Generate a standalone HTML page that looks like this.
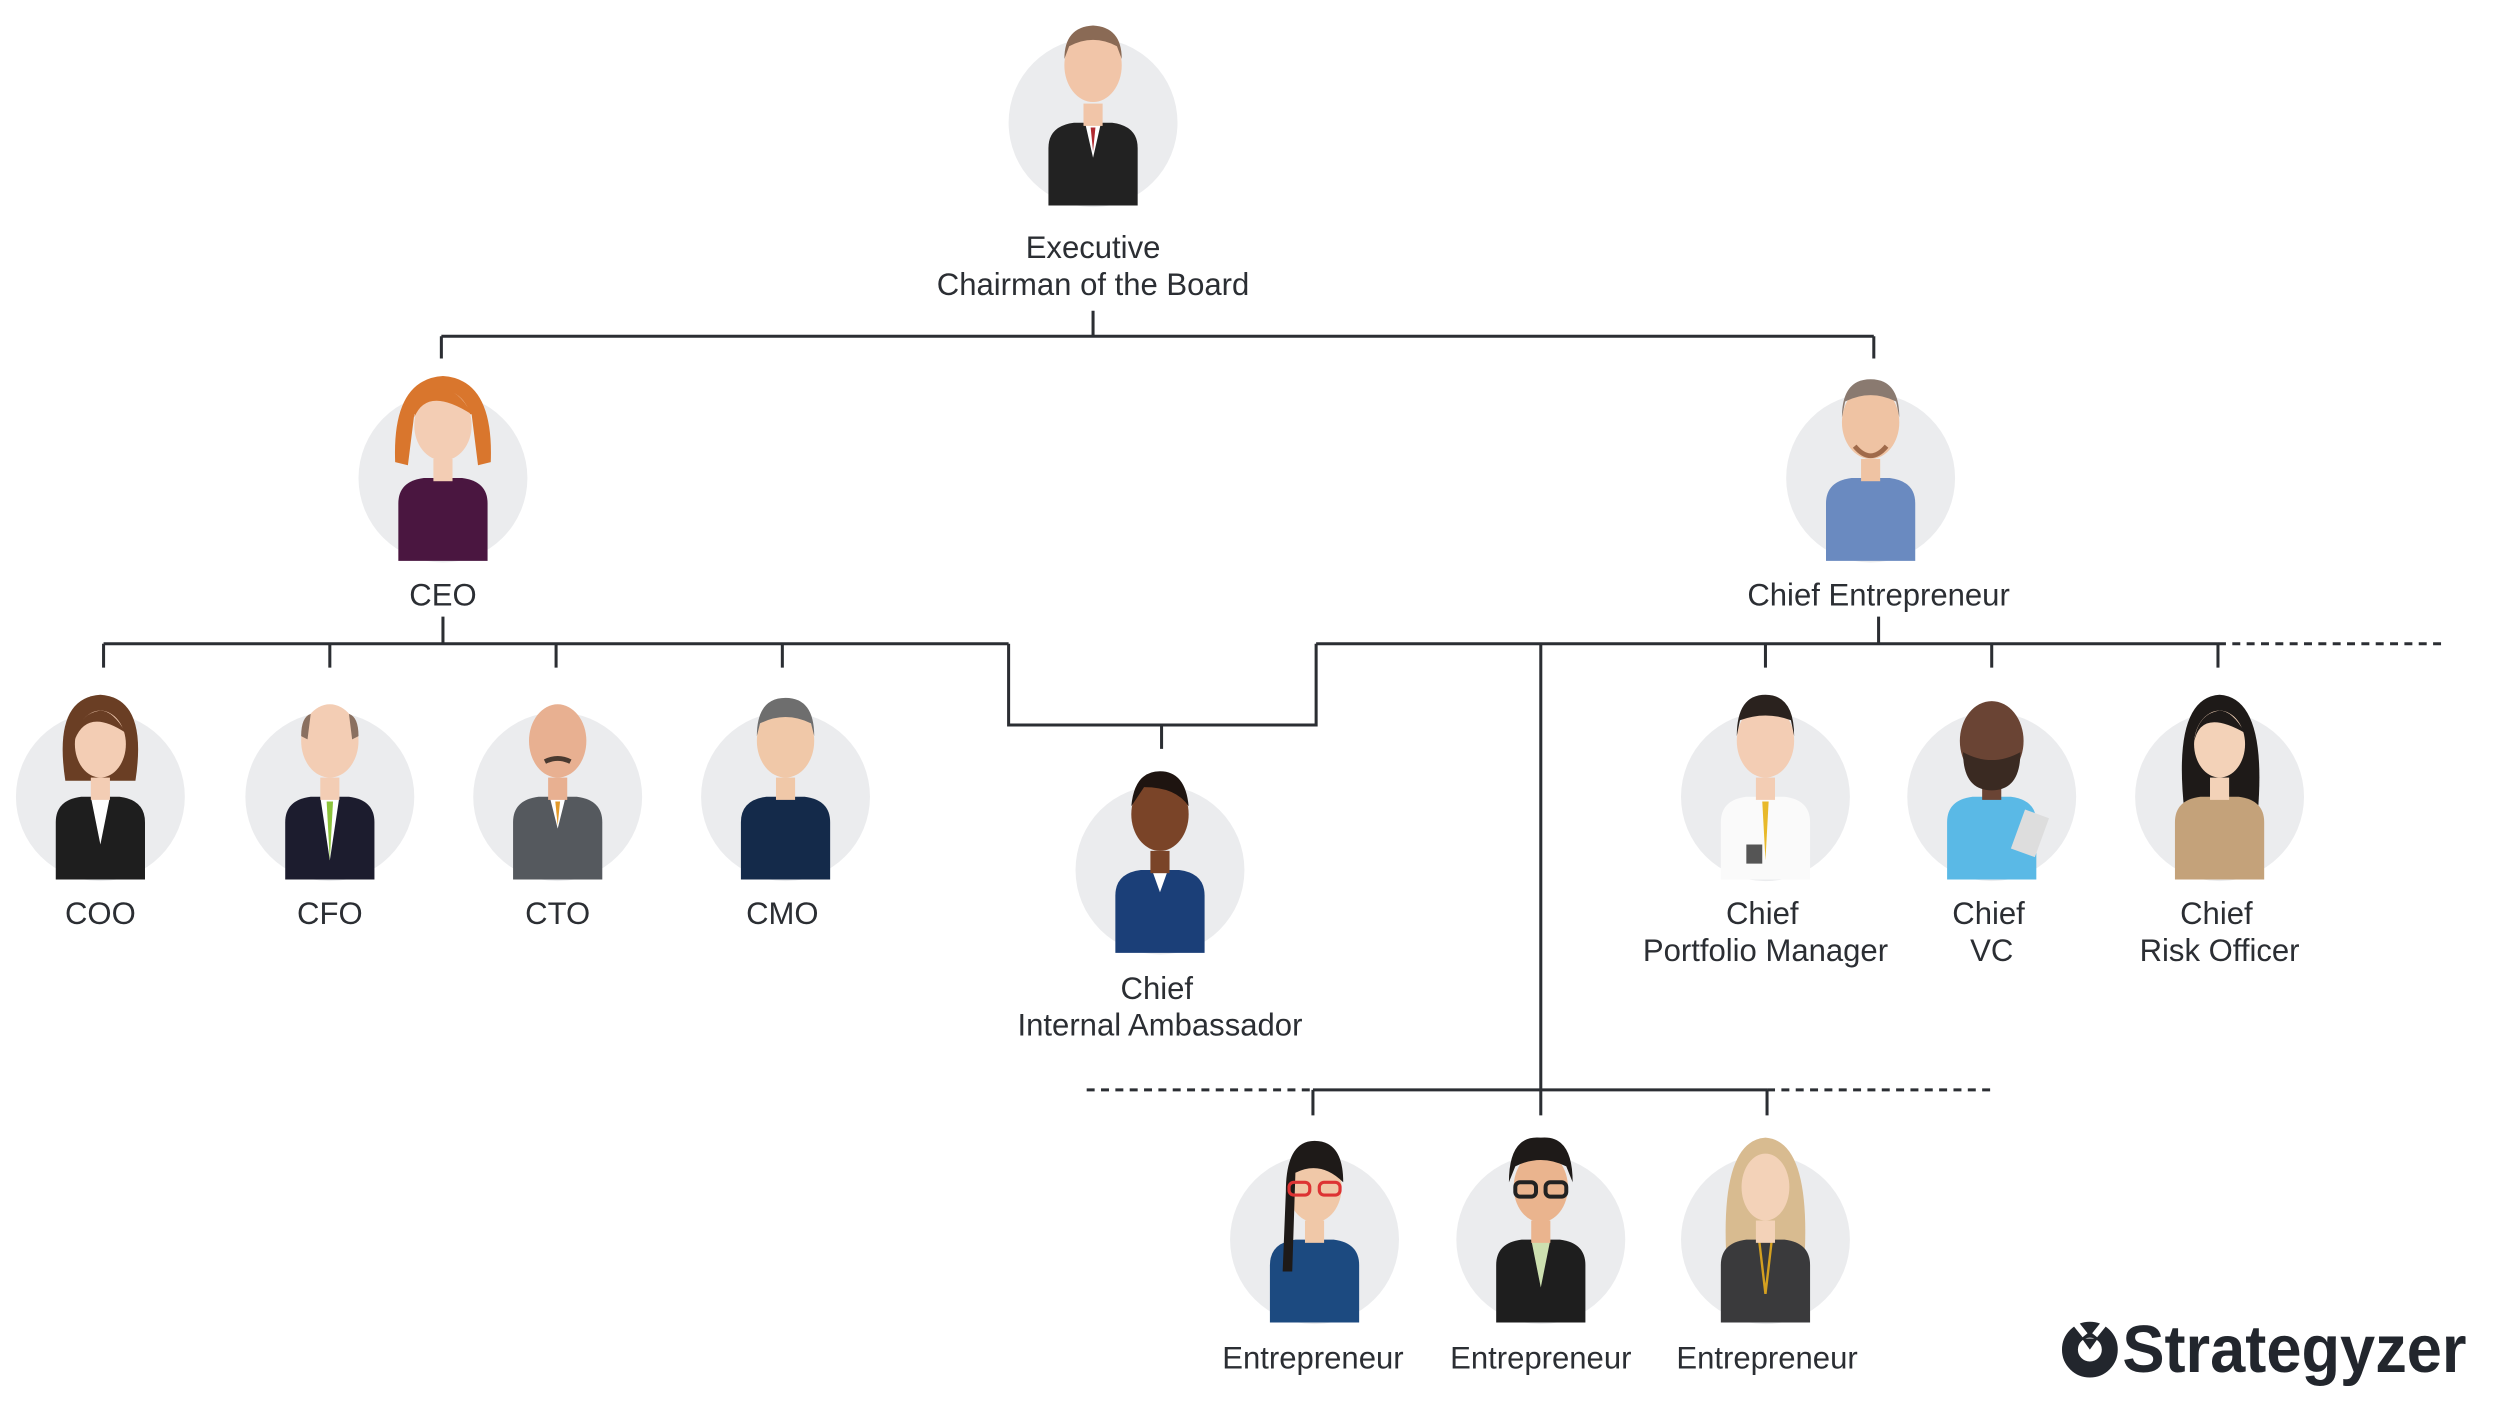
<!DOCTYPE html>
<html><head><meta charset="utf-8"><style>
html,body{margin:0;padding:0;background:#fff;}
svg{display:block;}
text{font-family:"Liberation Sans",sans-serif;fill:#2b2e33;font-size:19.5px;text-anchor:middle;}
</style></head><body>
<svg width="2500" height="1421" viewBox="0 0 1569 891.8" xmlns="http://www.w3.org/2000/svg">
<defs>
<g id="c"><circle r="53" fill="#ebecee"/></g>
</defs>
<g stroke="#2b2e33" stroke-width="1.9" fill="none">
<path d="M686,195V211M277,211H1176M277,211V225M1176,211V225"/>
<path d="M278,387V404M65,404H633M65,404V419M207,404V419M349,404V419M491,404V419M633,404V455H826V404M729,455V470"/>
<path d="M826,404H1392M1179,387V404M1108,404V419M1250,404V419M1392,404V419M967,404V700M824,684H1109M824,684V700M967,684V700M1109,684V700"/>
<path d="M1392,404H1535M682,684H824M1109,684H1252" stroke-dasharray="5,4"/>
</g>

<g transform="translate(686,77)"><use href="#c"/>
<path d="M-28,52V16Q-28,2 -12,0H12Q28,2 28,16V52Z" fill="#222"/><path d="M-5,0L0,22L5,0Z" fill="#fff"/><path d="M-1.5,3L0,18L1.5,3Z" fill="#b02a30"/>
<rect x="-6" y="-12" width="12" height="14" fill="#f1c5a8"/><ellipse cx="0" cy="-36" rx="18" ry="23" fill="#f1c5a8"/><path d="M-18,-40Q-18,-60 0,-61Q18,-60 18,-40L15,-48Q0,-56 -15,-48Z" fill="#8a6a55"/></g>
<text x="686" y="162">Executive</text><text x="686" y="185">Chairman of the Board</text>

<g transform="translate(278,300)"><use href="#c"/>
<path d="M-28,52V16Q-28,2 -12,0H12Q28,2 28,16V52Z" fill="#4a1640"/>
<path d="M-30,-10Q-32,-62 0,-64Q32,-62 30,-10L22,-8L18,-40H-18L-22,-8Z" fill="#d9762d"/>
<rect x="-6" y="-12" width="12" height="14" fill="#f3cdb4"/><ellipse cx="0" cy="-33" rx="18" ry="22" fill="#f3cdb4"/><path d="M-18,-38Q-10,-58 18,-40Q10,-56 -2,-56Q-16,-54 -18,-38Z" fill="#d9762d"/></g>
<text x="278" y="380">CEO</text>

<g transform="translate(1174,300)"><use href="#c"/>
<path d="M-28,52V16Q-28,2 -12,0H12Q28,2 28,16V52Z" fill="#6a8ac0"/>
<rect x="-6" y="-12" width="12" height="14" fill="#efc3a3"/><ellipse cx="0" cy="-35" rx="18" ry="23" fill="#efc3a3"/><path d="M-18,-38Q-18,-62 0,-62Q18,-62 18,-38L16,-48Q0,-56 -16,-48Z" fill="#8a7a70"/><path d="M-10,-20Q0,-8 10,-20" stroke="#a06a4a" stroke-width="3" fill="none"/></g>
<text x="1179" y="380">Chief Entrepreneur</text>

<g transform="translate(63,500)"><use href="#c"/>
<path d="M-22,-10Q-30,-62 0,-64Q30,-62 22,-10Z" fill="#6a3e24"/>
<path d="M-28,52V16Q-28,2 -12,0H12Q28,2 28,16V52Z" fill="#1e1e1e"/><path d="M-6,0L0,30L6,0Z" fill="#fff"/>
<rect x="-6" y="-12" width="12" height="14" fill="#f3cdb4"/><ellipse cx="0" cy="-33" rx="16" ry="21" fill="#f3cdb4"/><path d="M-16,-36Q-8,-56 16,-40Q8,-54 0,-54Q-14,-52 -16,-36Z" fill="#6a3e24"/></g>
<text x="63" y="580">COO</text>

<g transform="translate(207,500)"><use href="#c"/>
<path d="M-28,52V16Q-28,2 -12,0H12Q28,2 28,16V52Z" fill="#1c1c2e"/><path d="M-6,0L0,40L6,0Z" fill="#fff"/><path d="M-2,3L0,40L2,3Z" fill="#8cc43c"/>
<rect x="-6" y="-12" width="12" height="14" fill="#f3cdb4"/><ellipse cx="0" cy="-35" rx="18" ry="23" fill="#f3cdb4"/><path d="M-18,-38Q-18,-50 -12,-52L-14,-36ZM18,-38Q18,-50 12,-52L14,-36Z" fill="#8a7060"/></g>
<text x="207" y="580">CFO</text>

<g transform="translate(350,500)"><use href="#c"/>
<path d="M-28,52V16Q-28,2 -12,0H12Q28,2 28,16V52Z" fill="#55595e"/><path d="M-5,0L0,20L5,0Z" fill="#fff"/><path d="M-1.5,3L0,18L1.5,3Z" fill="#e39a2a"/>
<rect x="-6" y="-12" width="12" height="14" fill="#e8b091"/><ellipse cx="0" cy="-35" rx="18" ry="23" fill="#e8b091"/><path d="M-8,-22Q0,-26 8,-22" stroke="#4a3a30" stroke-width="3" fill="none"/></g>
<text x="350" y="580">CTO</text>

<g transform="translate(493,500)"><use href="#c"/>
<path d="M-28,52V16Q-28,2 -12,0H12Q28,2 28,16V52Z" fill="#142a4a"/>
<rect x="-6" y="-12" width="12" height="14" fill="#f0c8a8"/><ellipse cx="0" cy="-35" rx="18" ry="23" fill="#f0c8a8"/><path d="M-18,-38Q-18,-62 0,-62Q18,-62 18,-38L16,-46Q0,-54 -16,-46Z" fill="#6e6e6e"/></g>
<text x="491" y="580">CMO</text>

<g transform="translate(728,546)"><use href="#c"/>
<path d="M-28,52V16Q-28,2 -12,0H12Q28,2 28,16V52Z" fill="#1b3f78"/><path d="M-5,0L0,14L5,0Z" fill="#fff"/>
<rect x="-6" y="-12" width="12" height="14" fill="#7a4428"/><ellipse cx="0" cy="-35" rx="18" ry="23" fill="#7a4428"/><path d="M-18,-40Q-16,-62 0,-62Q16,-62 18,-40Q10,-52 -10,-52Z" fill="#1e1410"/></g>
<text x="726" y="627">Chief</text><text x="728" y="650">Internal Ambassador</text>

<g transform="translate(1108,500)"><use href="#c"/>
<path d="M-28,52V16Q-28,2 -12,0H12Q28,2 28,16V52Z" fill="#fafafa"/><path d="M-2,3L0,40L2,3Z" fill="#e8b92a"/><rect x="-12" y="30" width="10" height="12" fill="#555"/>
<rect x="-6" y="-12" width="12" height="14" fill="#f3cdb4"/><ellipse cx="0" cy="-35" rx="18" ry="23" fill="#f3cdb4"/><path d="M-18,-38Q-18,-64 0,-64Q18,-64 18,-38L16,-48Q0,-54 -16,-48Z" fill="#2a221e"/></g>
<text x="1106" y="580">Chief</text><text x="1108" y="603">Portfolio Manager</text>

<g transform="translate(1250,500)"><use href="#c"/>
<path d="M-28,52V16Q-28,2 -12,0H12Q28,2 28,16V52Z" fill="#5ab9e6"/><rect x="16" y="10" width="16" height="26" fill="#ddd" transform="rotate(20 24 23)"/>
<rect x="-6" y="-12" width="12" height="14" fill="#6a4434"/><ellipse cx="0" cy="-35" rx="20" ry="25" fill="#6a4434"/><path d="M-18,-28Q-18,-4 0,-4Q18,-4 18,-28Q0,-18 -18,-28Z" fill="#3a2a22"/></g>
<text x="1248" y="580">Chief</text><text x="1250" y="603">VC</text>

<g transform="translate(1393,500)"><use href="#c"/>
<path d="M-22,10Q-30,-62 0,-64Q30,-62 24,10Z" fill="#1e1a18"/>
<path d="M-28,52V16Q-28,2 -12,0H12Q28,2 28,16V52Z" fill="#c4a27a"/>
<rect x="-6" y="-12" width="12" height="14" fill="#f3d2b8"/><ellipse cx="0" cy="-33" rx="16" ry="21" fill="#f3d2b8"/><path d="M-16,-34Q-12,-56 16,-40Q8,-54 0,-54Q-14,-52 -16,-34Z" fill="#1e1a18"/></g>
<text x="1391" y="580">Chief</text><text x="1393" y="603">Risk Officer</text>

<g transform="translate(825,778)"><use href="#c"/>
<path d="M-28,52V16Q-28,2 -12,0H12Q28,2 28,16V52Z" fill="#1c4a80"/>
<rect x="-6" y="-12" width="12" height="14" fill="#f0c8a8"/><ellipse cx="0" cy="-33" rx="17" ry="22" fill="#f0c8a8"/><path d="M-18,-30Q-18,-62 0,-62Q18,-62 18,-36Q4,-50 -12,-42L-14,20L-20,20Z" fill="#1e1a18"/>
<rect x="-16" y="-36" width="13" height="8" rx="3" fill="none" stroke="#d33" stroke-width="2"/><rect x="3" y="-36" width="13" height="8" rx="3" fill="none" stroke="#d33" stroke-width="2"/></g>
<g transform="translate(967,778)"><use href="#c"/>
<path d="M-28,52V16Q-28,2 -12,0H12Q28,2 28,16V52Z" fill="#1e1e1e"/><path d="M-6,0L0,30L6,0Z" fill="#cde0b0"/>
<rect x="-6" y="-12" width="12" height="14" fill="#eab48e"/><ellipse cx="0" cy="-33" rx="17" ry="22" fill="#eab48e"/><path d="M-20,-36Q-20,-66 0,-64Q20,-66 20,-36L16,-46Q0,-54 -16,-46Z" fill="#1e1a18"/>
<rect x="-16" y="-36" width="13" height="9" rx="3" fill="none" stroke="#222" stroke-width="2.5"/><rect x="3" y="-36" width="13" height="9" rx="3" fill="none" stroke="#222" stroke-width="2.5"/></g>
<g transform="translate(1108,778)"><use href="#c"/>
<path d="M-24,20Q-30,-62 0,-64Q30,-62 24,20Z" fill="#d8bb90"/>
<path d="M-28,52V16Q-28,2 -12,0H12Q28,2 28,16V52Z" fill="#3a3a3c"/><path d="M-4,0L0,34L4,0" stroke="#d4a020" fill="none" stroke-width="1.5"/>
<rect x="-6" y="-12" width="12" height="14" fill="#f3d2b8"/><ellipse cx="0" cy="-33" rx="15" ry="21" fill="#f3d2b8"/></g>
<text x="824" y="859">Entrepreneur</text><text x="967" y="859">Entrepreneur</text><text x="1109" y="859">Entrepreneur</text>

<g transform="translate(1311.6,847)"><circle r="12.5" fill="none" stroke="#22262d" stroke-width="10"/><path d="M-11,-19L-3,-9M11,-19L3,-9" stroke="#fff" stroke-width="4"/><path d="M-5,-7L0,0L5,-7Z" fill="#22262d"/></g>
<text x="1440" y="861" style="font-size:42px;font-weight:bold;fill:#22262d" textLength="216" lengthAdjust="spacingAndGlyphs">Strategyzer</text>
</svg>
</body></html>
